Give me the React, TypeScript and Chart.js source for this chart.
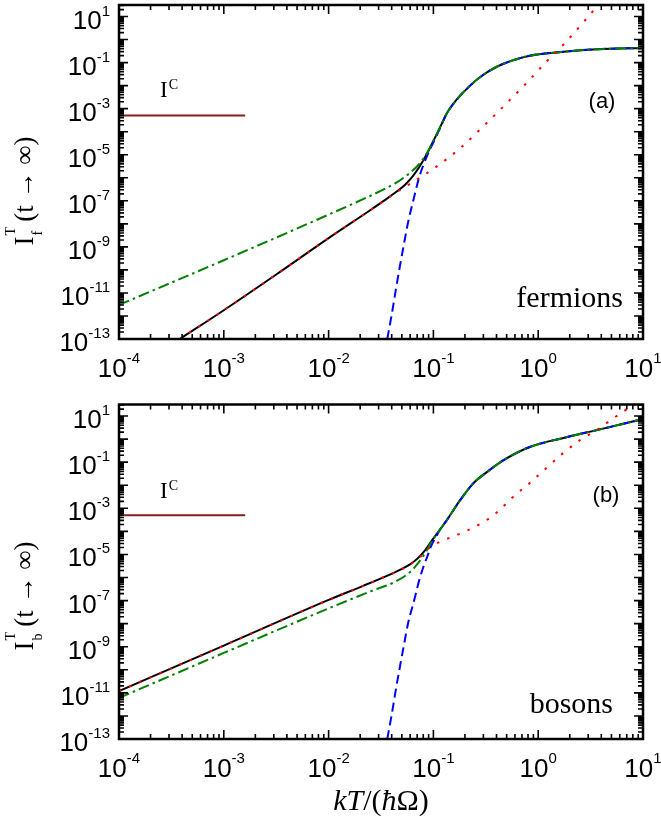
import React, { useEffect, useRef } from "react";
import { Chart, registerables } from "chart.js";

Chart.register(...registerables);

// ---------- axes ----------
const X_MIN = 1e-4;
const X_MAX = 10;
const Y_MIN = 1e-13;
const Y_MAX = Math.pow(10, 1.5);
const xTickExps = [-4, -3, -2, -1, 0, 1];
const yTickExps = [1, -1, -3, -5, -7, -9, -11, -13];

// ---------- panel (a): fermions (log10 kT, log10 I) ----------
const fSolidLogT = [-3.42, -3.0, -2.5, -2.0, -1.6, -1.45, -1.35, -1.27, -1.2, -1.13, -1.06, -1.0, -0.93, -0.87, -0.78, -0.65, -0.53, -0.39, -0.24, -0.08, 0.24, 0.56, 1.0];
const fSolidLogI = [-13.0, -11.75, -10.2, -8.62, -7.4, -6.93, -6.6, -6.3, -5.95, -5.5, -4.95, -4.4, -3.75, -3.19, -2.62, -2.0, -1.55, -1.17, -0.9, -0.7, -0.53, -0.42, -0.37];

const fGreenLogT = [-4.0, -3.0, -2.0, -1.6, -1.45, -1.35, -1.27, -1.2, -1.13, -1.06, -1.0, -0.93, -0.87, -0.78, -0.65, -0.53, -0.39, -0.24, -0.08, 0.24, 0.56, 1.0];
const fGreenLogI = [-11.52, -9.58, -7.6, -6.78, -6.45, -6.2, -5.95, -5.7, -5.38, -4.92, -4.4, -3.75, -3.19, -2.62, -2.0, -1.55, -1.17, -0.9, -0.7, -0.53, -0.42, -0.37];

const fBlueLogT = [-1.44, -1.4, -1.36, -1.32, -1.28, -1.24, -1.19, -1.14, -1.1, -1.06, -1.02, -0.97, -0.93, -0.87, -0.78, -0.65, -0.53, -0.39, -0.24, -0.08, 0.24, 0.56, 1.0];
const fBlueLogI = [-13.0, -12.0, -10.9, -9.85, -8.85, -7.9, -6.95, -6.05, -5.5, -5.05, -4.65, -4.18, -3.78, -3.19, -2.62, -2.0, -1.55, -1.17, -0.9, -0.7, -0.53, -0.42, -0.37];

const fRedLogT = [-3.42, -3.0, -2.5, -2.0, -1.6, -1.45, -1.35, -1.2, -1.03, -0.92, -0.82, -0.72, -0.54, -0.43, -0.27, -0.11, 0.07, 0.27, 0.45, 0.62];
const fRedLogI = [-13.0, -11.75, -10.2, -8.62, -7.4, -6.93, -6.62, -6.2, -5.7, -5.35, -5.0, -4.62, -3.84, -3.35, -2.62, -1.88, -1.0, -0.08, 0.85, 1.75];

// ---------- panel (b): bosons ----------
const bSolidLogT = [-4.0, -3.0, -2.0, -1.67, -1.4, -1.3, -1.22, -1.15, -1.08, -1.01, -0.94, -0.87, -0.75, -0.62, -0.49, -0.33, -0.08, 0.24, 0.56, 1.0];
const bSolidLogI = [-10.92, -8.95, -6.97, -6.36, -5.84, -5.63, -5.42, -5.17, -4.82, -4.37, -3.94, -3.5, -2.68, -1.92, -1.43, -0.91, -0.34, 0.05, 0.39, 0.87];

const bGreenLogT = [-4.0, -3.0, -1.99, -1.6, -1.35, -1.22, -1.15, -1.08, -1.01, -0.94, -0.87, -0.75, -0.62, -0.49, -0.33, -0.08, 0.24, 0.56, 1.0];
const bGreenLogI = [-11.22, -9.27, -7.32, -6.6, -6.15, -5.75, -5.4, -4.95, -4.4, -3.94, -3.5, -2.68, -1.92, -1.43, -0.91, -0.34, 0.05, 0.39, 0.87];

const bBlueLogT = [-1.44, -1.4, -1.36, -1.32, -1.28, -1.24, -1.19, -1.14, -1.1, -1.06, -1.02, -0.97, -0.94, -0.87, -0.75, -0.62, -0.49, -0.33, -0.08, 0.24, 0.56, 1.0];
const bBlueLogI = [-13.0, -12.0, -10.9, -9.88, -8.9, -7.95, -7.1, -6.2, -5.6, -5.11, -4.62, -4.2, -3.94, -3.5, -2.68, -1.92, -1.43, -0.91, -0.34, 0.05, 0.39, 0.87];

const bRedLogT = [-4.0, -3.0, -2.0, -1.67, -1.4, -1.3, -1.15, -1.03, -0.9, -0.72, -0.53, -0.39, -0.24, -0.08, 0.11, 0.24, 0.4, 0.56, 0.71, 0.88, 0.98];
const bRedLogI = [-10.92, -8.95, -6.97, -6.36, -5.84, -5.64, -5.2, -4.68, -4.38, -4.05, -3.62, -3.16, -2.51, -1.9, -1.12, -0.6, -0.04, 0.4, 0.88, 1.4, 1.7];

// ---------- classical current I^C ----------
const icT = [1e-4, 1.6e-3];
const icI = [5e-4, 5e-4];

const toPts = (lt: number[], li: number[]) => lt.map((t, i) => ({ x: Math.pow(10, t), y: Math.pow(10, li[i]) }));
const linPts = (t: number[], v: number[]) => t.map((x, i) => ({ x, y: v[i] }));

type PanelDef = {
  solid: any[]; green: any[]; blue: any[]; red: any[]; ic: any[];
  height: number; padTop: number; padBottom: number;
  sub: string; tag: string; tagX: number; tagY: number;
  name: string; nameX: number; nameY: number; icY: number;
  yTitleCenter: number; xTitle: boolean;
};

const SANS = "'Liberation Sans', Arial, sans-serif";
const SERIF = "'Liberation Serif', 'Times New Roman', serif";

function drawPow(ctx: CanvasRenderingContext2D, exp: number, x: number, baseY: number, supY: number, align: "right" | "center") {
  ctx.font = `26px ${SANS}`;
  const wb = ctx.measureText("10").width;
  const es = String(exp);
  ctx.font = `15px ${SANS}`;
  const we = ctx.measureText(es).width;
  const total = wb + we;
  const sx = align === "right" ? x - total : x - total / 2;
  ctx.textAlign = "left";
  ctx.textBaseline = "alphabetic";
  ctx.font = `26px ${SANS}`;
  ctx.fillText("10", sx, baseY);
  ctx.font = `15px ${SANS}`;
  ctx.fillText(es, sx + wb, supY);
}

function drawYTitle(ctx: CanvasRenderingContext2D, sub: string, centerY: number) {
  const big = `27px ${SERIF}`;
  const small = `14px ${SERIF}`;
  const rest = "(t \u2192 \u221E)";
  ctx.font = big;
  const wI = ctx.measureText("I").width;
  const wR = ctx.measureText(rest).width;
  ctx.font = small;
  const wS = Math.max(ctx.measureText(sub).width, ctx.measureText("T").width);
  const gap = 5;
  const total = wI + 1 + wS + gap + wR;
  ctx.save();
  ctx.translate(33, centerY + total / 2);
  ctx.rotate(-Math.PI / 2);
  ctx.textAlign = "left";
  ctx.textBaseline = "alphabetic";
  ctx.font = big;
  ctx.fillText("I", 0, 0);
  ctx.font = small;
  ctx.fillText(sub, wI + 1, 9);
  ctx.fillText("T", wI + 1, -18);
  ctx.font = big;
  ctx.fillText(rest, wI + 1 + wS + gap, 0);
  ctx.restore();
}

function drawXTitle(ctx: CanvasRenderingContext2D, cx: number, baseY: number) {
  const it = `italic 30px ${SERIF}`;
  const up = `30px ${SERIF}`;
  const parts: [string, string][] = [["kT", it], ["/(", up], ["\u0127", it], ["\u03A9)", up]];
  let total = 0;
  const widths = parts.map(([s, f]) => { ctx.font = f; const w = ctx.measureText(s).width; total += w; return w; });
  let x = cx - total / 2;
  ctx.textAlign = "left";
  ctx.textBaseline = "alphabetic";
  parts.forEach(([s, f], i) => { ctx.font = f; ctx.fillText(s, x, baseY); x += widths[i]; });
}

function framePlugin(p: PanelDef) {
  return {
    id: "frameTicks",
    afterDraw(chart: any) {
      const ctx: CanvasRenderingContext2D = chart.ctx;
      const a = chart.chartArea;
      const xs = chart.scales.x;
      const ys = chart.scales.y;
      ctx.save();
      ctx.strokeStyle = "#000";
      ctx.fillStyle = "#000";
      ctx.lineWidth = 1.6;
      ctx.beginPath();
      for (let d = -4; d <= 1; d++) {
        for (let m = 1; m <= 9; m++) {
          const v = m * Math.pow(10, d);
          if (v > X_MAX * 1.0001) break;
          const px = xs.getPixelForValue(v);
          const len = m === 1 ? 9 : 5;
          ctx.moveTo(px, a.bottom); ctx.lineTo(px, a.bottom - len);
          ctx.moveTo(px, a.top); ctx.lineTo(px, a.top + len);
        }
      }
      for (let d = -13; d <= 1; d++) {
        for (let m = 1; m <= 9; m++) {
          const v = m * Math.pow(10, d);
          if (v > Y_MAX * 1.0001) break;
          const py = ys.getPixelForValue(v);
          const len = m === 1 ? 9 : 5;
          ctx.moveTo(a.left, py); ctx.lineTo(a.left + len, py);
          ctx.moveTo(a.right, py); ctx.lineTo(a.right - len, py);
        }
      }
      ctx.stroke();
      ctx.lineWidth = 2.5;
      ctx.strokeRect(a.left, a.top, a.right - a.left, a.bottom - a.top);

      // tick labels
      yTickExps.forEach((e) => {
        const py = ys.getPixelForValue(Math.pow(10, e));
        drawPow(ctx, e, 110, py + 12, py - 1, "right");
      });
      xTickExps.forEach((e) => {
        const px = xs.getPixelForValue(Math.pow(10, e));
        drawPow(ctx, e, px, a.bottom + 38, a.bottom + 24, "center");
      });

      // axis titles
      drawYTitle(ctx, p.sub, p.yTitleCenter);
      if (p.xTitle) drawXTitle(ctx, 381, a.bottom + 71);

      // annotations
      ctx.textBaseline = "alphabetic";
      ctx.textAlign = "left";
      ctx.font = `23px ${SERIF}`;
      const wI = ctx.measureText("I").width;
      ctx.fillText("I", 160, p.icY);
      ctx.font = `14px ${SERIF}`;
      ctx.fillText("C", 160 + wI + 1, p.icY - 8);

      ctx.font = `22px ${SANS}`;
      ctx.textAlign = "center";
      ctx.fillText(p.tag, p.tagX, p.tagY);

      ctx.font = `30px ${SERIF}`;
      ctx.textAlign = "right";
      ctx.fillText(p.name, p.nameX, p.nameY);
      ctx.restore();
    },
  };
}

function makeConfig(p: PanelDef): any {
  const common = { pointRadius: 0, borderWidth: 2, fill: false, cubicInterpolationMode: "monotone" };
  return {
    type: "line",
    data: {
      datasets: [
        { ...common, label: "I^C", data: p.ic, borderColor: "#8b1a1a", order: 4 },
        { ...common, label: "full", data: p.solid, borderColor: "#000000", order: 3 },
        { ...common, label: "activated", data: p.blue, borderColor: "#0000ff", borderDash: [9, 5], order: 2 },
        { ...common, label: "approx", data: p.green, borderColor: "#008000", borderDash: [11, 4, 2.5, 4], order: 1 },
        { ...common, label: "low-T", data: p.red, borderColor: "#ff0000", borderDash: [2.5, 8.5], order: 0 },
      ],
    },
    options: {
      responsive: false,
      animation: false,
      layout: { padding: { left: 119, right: 18, top: p.padTop, bottom: p.padBottom } },
      scales: {
        x: { type: "logarithmic", min: X_MIN, max: X_MAX, display: false },
        y: { type: "logarithmic", min: Y_MIN, max: Y_MAX, display: false },
      },
      plugins: { legend: { display: false }, tooltip: { enabled: false } },
    },
    plugins: [framePlugin(p)],
  };
}

const panelA: PanelDef = {
  solid: toPts(fSolidLogT, fSolidLogI),
  green: toPts(fGreenLogT, fGreenLogI),
  blue: toPts(fBlueLogT, fBlueLogI),
  red: toPts(fRedLogT, fRedLogI),
  ic: linPts(icT, icI),
  height: 400, padTop: 5, padBottom: 61,
  sub: "f", tag: "(a)", tagX: 602, tagY: 108,
  name: "fermions", nameX: 623, nameY: 307, icY: 97,
  yTitleCenter: 191, xTitle: false,
};

const panelB: PanelDef = {
  solid: toPts(bSolidLogT, bSolidLogI),
  green: toPts(bGreenLogT, bGreenLogI),
  blue: toPts(bBlueLogT, bBlueLogI),
  red: toPts(bRedLogT, bRedLogI),
  ic: linPts(icT, icI),
  height: 426, padTop: 4.5, padBottom: 87,
  sub: "b", tag: "(b)", tagX: 606, tagY: 102,
  name: "bosons", nameX: 613, nameY: 313, icY: 98,
  yTitleCenter: 196, xTitle: true,
};

function Panel({ panel, top }: { panel: PanelDef; top: number }) {
  const ref = useRef<HTMLCanvasElement>(null);
  useEffect(() => {
    const chart = new Chart(ref.current as HTMLCanvasElement, makeConfig(panel));
    return () => chart.destroy();
  }, [panel]);
  return (
    <canvas
      ref={ref}
      width={661}
      height={panel.height}
      style={{ position: "absolute", left: 0, top, width: 661, height: panel.height, display: "block" }}
    />
  );
}

export default function App() {
  return (
    <div style={{ position: "absolute", left: 0, top: 0, width: 661, height: 826, background: "#fff" }}>
      <Panel panel={panelA} top={0} />
      <Panel panel={panelB} top={400} />
    </div>
  );
}
